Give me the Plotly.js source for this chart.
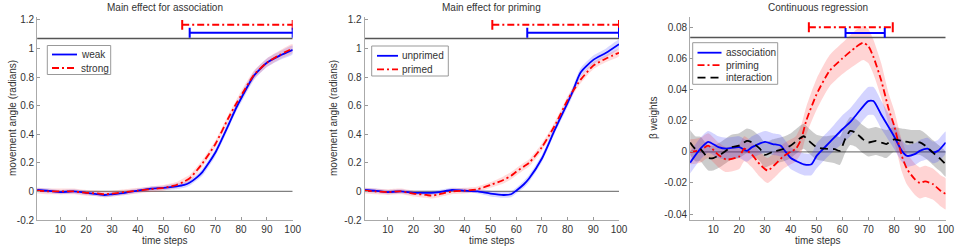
<!DOCTYPE html>
<html>
<head>
<meta charset="utf-8">
<script src="https://cdn.plot.ly/plotly-3.0.1.min.js"></script>
<style>html,body{margin:0;padding:0;background:#fff;}#chart{width:964px;height:249px;}</style>
</head>
<body>
<div id="chart"></div>
<script>
// ---------- Data ----------
// Panel 1: Main effect for association
const assocX = [1,5,10,15,20,25,27,30,35,40,45,50,55,58,60,63,65,70,75,78,80,85,90,95,100];
const weakY   = [0.01,0.005,-0.005,0,-0.01,-0.02,-0.025,-0.02,-0.01,0.005,0.02,0.025,0.035,0.045,0.06,0.1,0.135,0.27,0.46,0.58,0.65,0.81,0.9,0.95,0.99];
const weakErr = [0.015,0.015,0.015,0.015,0.015,0.015,0.015,0.015,0.015,0.015,0.015,0.015,0.02,0.02,0.02,0.02,0.025,0.025,0.025,0.025,0.03,0.03,0.03,0.03,0.03];
const strongY   = [0.005,0.0,0.0,0.0,-0.01,-0.015,-0.02,-0.015,-0.005,0.005,0.015,0.025,0.045,0.07,0.09,0.15,0.195,0.33,0.51,0.61,0.67,0.815,0.9,0.955,1.0];
const strongErr = [0.02,0.02,0.02,0.02,0.02,0.02,0.02,0.02,0.02,0.02,0.02,0.02,0.02,0.025,0.025,0.025,0.025,0.025,0.025,0.025,0.03,0.03,0.03,0.03,0.03];

// Panel 2: Main effect for priming
const primX = [1,5,10,15,20,25,27,30,35,40,45,50,55,58,60,63,65,70,75,80,82,85,90,95,100];
const unprimedY   = [0.01,0.005,-0.005,0,-0.01,-0.01,-0.01,-0.005,0.01,0.005,0.0,-0.015,-0.025,-0.02,0.005,0.05,0.09,0.23,0.43,0.62,0.7,0.83,0.92,0.97,1.03];
const unprimedErr = [0.015,0.015,0.015,0.015,0.015,0.015,0.015,0.015,0.015,0.015,0.015,0.02,0.02,0.02,0.02,0.025,0.025,0.025,0.025,0.03,0.03,0.03,0.03,0.03,0.03];
const primedY   = [0.005,0.0,-0.005,0.0,-0.015,-0.025,-0.03,-0.02,0.0,0.005,0.015,0.045,0.08,0.11,0.137,0.175,0.2,0.31,0.46,0.64,0.7,0.78,0.88,0.93,0.97];
const primedErr = [0.02,0.02,0.02,0.02,0.02,0.02,0.02,0.02,0.02,0.02,0.02,0.02,0.025,0.025,0.025,0.025,0.025,0.025,0.025,0.025,0.025,0.025,0.025,0.025,0.025];

// Panel 3: Continuous regression (beta weights)
const regX = [1,5,8,12,15,20,23,25,30,33,36,38,40,45,48,50,52,55,60,63,65,70,72,75,80,83,85,88,90,93,95,97,100];
const assocB = [-0.007,0.002,0.0064,0.003,0.002,0.003,0.0006,0.003,0.0064,0.005,0.004,0.0,-0.004,-0.008,-0.008,-0.0026,0.001,0.006,0.0145,0.019,0.023,0.0326,0.0326,0.024,0.010,0.0006,-0.0026,-0.0015,0.0006,0.002,-0.0004,0.0006,0.006];
const assocErr = [0.007,0.007,0.007,0.007,0.007,0.007,0.007,0.007,0.007,0.007,0.007,0.007,0.007,0.007,0.007,0.008,0.008,0.008,0.009,0.009,0.009,0.009,0.009,0.009,0.008,0.007,0.007,0.007,0.007,0.007,0.007,0.007,0.007];
const primX3 = [1,5,8,12,15,20,22,25,28,31,34,37,40,42,44,46,50,55,60,65,68,70,72,75,78,80,83,85,88,90,92,95,98,100];
const primB  = [0.0,0.001,0.004,-0.002,-0.005,-0.003,0.002,-0.002,-0.008,-0.012,-0.008,-0.003,0.0,0.002,0.008,0.02,0.037,0.052,0.060,0.067,0.070,0.068,0.061,0.046,0.027,0.017,-0.0026,-0.011,-0.0175,-0.02,-0.019,-0.0207,-0.025,-0.027];
const primErr = [0.008,0.008,0.008,0.008,0.008,0.008,0.008,0.008,0.008,0.008,0.008,0.008,0.008,0.008,0.009,0.009,0.01,0.01,0.01,0.011,0.011,0.011,0.011,0.011,0.01,0.01,0.01,0.01,0.01,0.01,0.01,0.01,0.01,0.01];
const interX = [1,3,5,8,10,13,17,20,23,25,28,30,33,37,40,43,45,47,50,53,57,59,61,63,65,68,70,73,75,77,80,83,87,90,92,95,98,100];
const interB = [0.006,0.002,0.0017,-0.004,-0.004,-0.0015,0.003,0.004,0.007,0.006,0.002,-0.002,0.0,0.0017,0.004,0.008,0.010,0.007,0.003,0.002,0.0017,0.0006,0.008,0.0134,0.0124,0.008,0.006,0.007,0.006,0.005,0.008,0.007,0.006,0.006,0.004,-0.0004,-0.0047,-0.008];
const interErr = [0.008,0.008,0.008,0.008,0.008,0.008,0.008,0.008,0.008,0.008,0.008,0.008,0.008,0.008,0.008,0.008,0.008,0.008,0.008,0.008,0.009,0.009,0.009,0.009,0.009,0.009,0.009,0.009,0.009,0.009,0.008,0.008,0.008,0.008,0.008,0.008,0.008,0.008];

// Significance bars [start, end] and heights
const sigRed  = [[57.2,100],[50.7,100],[47,79.5]];
const sigRedY = [1.165,1.165,0.080];
const sigBlue = [[60.1,100],[64.3,100],[61.2,76.4]];
const sigBlueY= [1.11,1.11,0.0764];
const refLineY = [1.07,1.07,0.0734];

// Labels
const panelTitles = ['Main effect for association','Main effect for priming','Continuous regression'];
const yTitles = ['movement angle (radians)','movement angle (radians)','\u03B2 weights'];
const xTitle = 'time steps';
const xTicks = [10,20,30,40,50,60,70,80,90,100];
const yTicks12 = [-0.2,0,0.2,0.4,0.6,0.8,1,1.2];
const yTickText12 = ['-0.2','0','0.2','0.4','0.6','0.8','1','1.2'];
const yTicks3 = [-0.04,-0.02,0,0.02,0.04,0.06,0.08];
const yTickText3 = ['-0.04','-0.02','0','0.02','0.04','0.06','0.08'];
const legendNames = [['weak','strong'],['unprimed','primed'],['association','priming','interaction']];

// ---------- Build traces ----------
const BLUE='#0000ff', RED='#ff0000', BLK='#000000';
const DASHDOT='7px,3px,2px,3px';
const BLKDASH='8px,5px';
const traces=[];
function band(x,y,e,fill,xa,ya){
  const up=y.map((v,i)=>v+e[i]);
  const lo=y.map((v,i)=>v-e[i]);
  traces.push({x:x.concat(x.slice().reverse()),y:up.concat(lo.slice().reverse()),
    type:'scatter',mode:'lines',fill:'toself',fillcolor:fill,line:{width:0,color:'rgba(0,0,0,0)',shape:'spline',smoothing:0.6},
    hoverinfo:'skip',showlegend:false,xaxis:xa,yaxis:ya});
}
function line(x,y,color,dash,name,xa,ya){
  traces.push({x:x,y:y,type:'scatter',mode:'lines',name:name,line:{color:color,width:1.8,dash:dash,shape:'spline',smoothing:0.6},
    xaxis:xa,yaxis:ya,showlegend:false});
}
function hline(yv,color,w,xa,ya){
  traces.push({x:[1,100],y:[yv,yv],type:'scatter',mode:'lines',line:{color:color,width:w},showlegend:false,hoverinfo:'skip',xaxis:xa,yaxis:ya});
}
function sig(r,yv,color,dash,xa,ya){
  traces.push({x:r,y:[yv,yv],type:'scatter',mode:'lines+markers',line:{color:color,width:2,dash:dash},
    marker:{symbol:'line-ns-open',size:7,color:color,line:{color:color,width:2}},showlegend:false,hoverinfo:'skip',xaxis:xa,yaxis:ya});
}
const axes=[['x','y'],['x2','y2'],['x3','y3']];
for(let p=0;p<3;p++){
  hline(0,'#808080',1.3,axes[p][0],axes[p][1]);
}
// Panel 1
band(assocX,weakY,weakErr,'rgba(60,60,255,0.2)','x','y');
band(assocX,strongY,strongErr,'rgba(255,60,60,0.18)','x','y');
line(assocX,weakY,BLUE,'solid',legendNames[0][0],'x','y');
line(assocX,strongY,RED,DASHDOT,legendNames[0][1],'x','y');
// Panel 2
band(primX,unprimedY,unprimedErr,'rgba(60,60,255,0.2)','x2','y2');
band(primX,primedY,primedErr,'rgba(255,60,60,0.18)','x2','y2');
line(primX,unprimedY,BLUE,'solid',legendNames[1][0],'x2','y2');
line(primX,primedY,RED,DASHDOT,legendNames[1][1],'x2','y2');
// Panel 3
band(interX,interB,interErr,'rgba(0,0,0,0.2)','x3','y3');
band(primX3,primB,primErr,'rgba(255,60,60,0.22)','x3','y3');
band(regX,assocB,assocErr,'rgba(60,60,255,0.22)','x3','y3');
line(regX,assocB,BLUE,'solid',legendNames[2][0],'x3','y3');
line(primX3,primB,RED,DASHDOT,legendNames[2][1],'x3','y3');
line(interX,interB,BLK,BLKDASH,legendNames[2][2],'x3','y3');
for(let p=0;p<3;p++){
  hline(refLineY[p],'#555555',1.6,axes[p][0],axes[p][1]);
  sig(sigRed[p],sigRedY[p],RED,DASHDOT,axes[p][0],axes[p][1]);
  sig(sigBlue[p],sigBlueY[p],BLUE,'solid',axes[p][0],axes[p][1]);
}

// ---------- Layout ----------
const W=964,H=249;
const FONT='"Liberation Sans", Arial, sans-serif';
const xdom=[[37.1,292.7],[364.6,619],[690.1,945.7]];
const ydomPx=[17,220];
const ydom=[1-ydomPx[1]/H,1-ydomPx[0]/H];
const yranges=[[-0.2,1.22],[-0.2,1.22],[-0.0438,0.0866]];
function xax(p){
  return {domain:[xdom[p][0]/W,xdom[p][1]/W],range:[1,100],anchor:axes[p][1],
    tickvals:xTicks,ticks:'inside',ticklen:3,tickcolor:'#999',showline:true,linecolor:'#aaaaaa',linewidth:1,
    showgrid:false,zeroline:false,tickfont:{size:10,color:'#333',family:FONT},fixedrange:true};
}
function yax(p){
  const tv=p<2?yTicks12:yTicks3, tt=p<2?yTickText12:yTickText3;
  return {domain:ydom,range:yranges[p],anchor:axes[p][0],tickvals:tv,ticktext:tt,ticks:'inside',ticklen:3,tickcolor:'#999',
    showline:true,linecolor:'#aaaaaa',linewidth:1,showgrid:false,zeroline:false,tickfont:{size:10,color:'#333',family:FONT},fixedrange:true};
}
const annotations=[];
const shapes=[];
for(let p=0;p<3;p++){
  const cx=(xdom[p][0]+xdom[p][1])/2/W;
  annotations.push({text:panelTitles[p],xref:'paper',yref:'paper',x:cx,y:1-7/H,xanchor:'center',yanchor:'middle',showarrow:false,font:{size:10,color:'#333',family:FONT}});
  annotations.push({text:xTitle,xref:'paper',yref:'paper',x:cx,y:1-240/H,xanchor:'center',yanchor:'middle',showarrow:false,font:{size:10,color:'#333',family:FONT}});
  const yx=[12,333,653][p];
  annotations.push({text:yTitles[p],xref:'paper',yref:'paper',x:yx/W,y:1-118/H,xanchor:'center',yanchor:'middle',textangle:-90,showarrow:false,font:{size:10,color:'#333',family:FONT}});
}
// Custom compact legends (MATLAB style)
const legendStyles=[[[BLUE,'solid'],[RED,DASHDOT]],[[BLUE,'solid'],[RED,DASHDOT]],[[BLUE,'solid'],[RED,DASHDOT],[BLK,BLKDASH]]];
const legBox=[[47.3,45.5,110.7,74.5],[371.7,46,448.3,76],[692.7,42.7,777.7,84.3]];
const legRow0=[54.5,55.8,52.7];
const legRowStep=[13.5,13.5,12.5];
const legLine=[[52,77],[377,398],[697.5,721.5]];
for(let p=0;p<3;p++){
  const b=legBox[p];
  shapes.push({type:'rect',xref:'paper',yref:'paper',x0:b[0]/W,x1:b[2]/W,y0:1-b[1]/H,y1:1-b[3]/H,line:{color:'#999',width:1},fillcolor:'#fff',layer:'above'});
  legendNames[p].forEach((nm,i)=>{
    const yy=legRow0[p]+i*legRowStep[p];
    shapes.push({type:'line',xref:'paper',yref:'paper',x0:legLine[p][0]/W,x1:legLine[p][1]/W,y0:1-yy/H,y1:1-yy/H,
      line:{color:legendStyles[p][i][0],width:1.8,dash:legendStyles[p][i][1]},layer:'above'});
    annotations.push({text:nm,xref:'paper',yref:'paper',x:(legLine[p][1]+2)/W,y:1-yy/H,xanchor:'left',yanchor:'middle',showarrow:false,
      font:{size:10,color:'#333',family:FONT}});
  });
}
const layout={width:W,height:H,margin:{l:0,r:0,t:0,b:0},paper_bgcolor:'#fff',plot_bgcolor:'#fff',
  xaxis:xax(0),yaxis:yax(0),xaxis2:xax(1),yaxis2:yax(1),xaxis3:xax(2),yaxis3:yax(2),
  showlegend:false,shapes:shapes,annotations:annotations,font:{family:FONT}};
Plotly.newPlot('chart',traces,layout,{displayModeBar:false,staticPlot:true});
</script>
</body>
</html>
